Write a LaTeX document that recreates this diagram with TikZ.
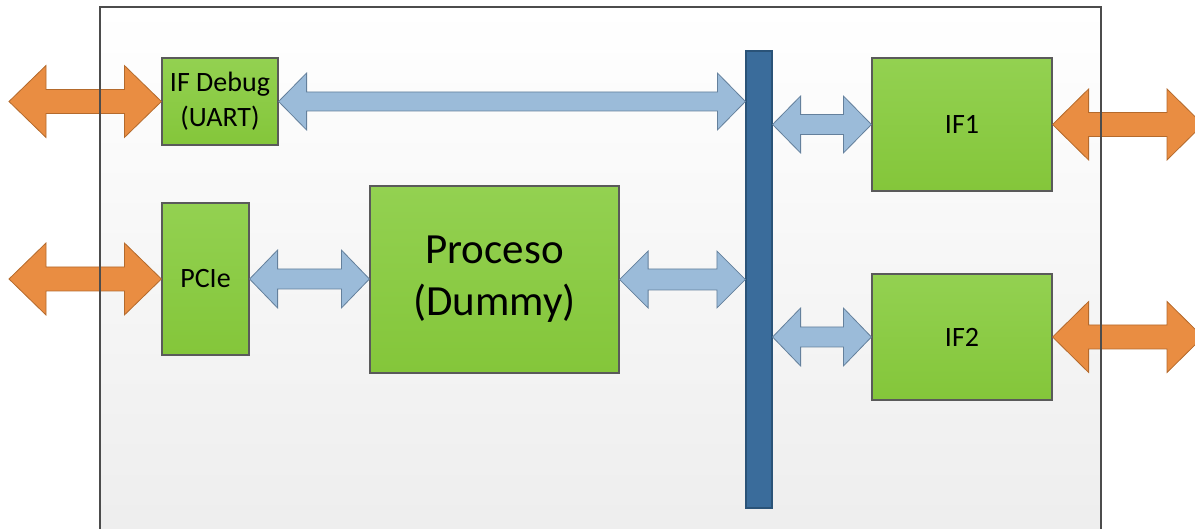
\documentclass[tikz,border=0pt]{standalone}
\usepackage{fontspec}
\setmainfont{Carlito}
\usetikzlibrary{calc}
\definecolor{verdeA}{HTML}{93D151}
\definecolor{verdeB}{HTML}{84C63A}
\definecolor{borde}{HTML}{5A5A5A}
\definecolor{naranja}{HTML}{E98D42}
\definecolor{naranjaD}{HTML}{B46A2C}
\definecolor{celeste}{HTML}{9BBBD9}
\definecolor{celesteD}{HTML}{64809C}
\definecolor{bus}{HTML}{3A6C9B}
\definecolor{busD}{HTML}{2A5378}

% flecha doble: estilo, desde, hasta, largo punta, media altura punta, media altura cuerpo
\newcommand{\flecha}[6]{%
\path[#1] let \p1=(#2), \p2=(#3) in (\x1,\y1) -- (\x1+#4,\y1+#5) -- (\x1+#4,\y1+#6) -- (\x2-#4,\y1+#6) -- (\x2-#4,\y1+#5) -- (\x2,\y1) -- (\x2-#4,\y1-#5) -- (\x2-#4,\y1-#6) -- (\x1+#4,\y1-#6) -- (\x1+#4,\y1-#5) -- cycle;}

\begin{document}
\begin{tikzpicture}[x=1pt,y=-1pt,
  caja/.style={draw=borde, line width=1.2pt, top color=verdeA, bottom color=verdeB, inner sep=0pt, align=center, font=\fontsize{28}{35}\selectfont},
  naranjo/.style={fill=naranja, draw=naranjaD, line width=0.8pt},
  azul/.style={fill=celeste, draw=celesteD, line width=0.8pt}]
\useasboundingbox (0,0) rectangle (1195,529);

% placa
\fill[top color=white, bottom color=black!7] (100,7) rectangle (1101,545);

\node[caja, minimum width=116, minimum height=87] (debug) at (220,101.5) {IF Debug\\(UART)};
\node[caja, minimum width=87, minimum height=152] (pcie) at (205.5,279) {PCIe};
\node[caja, minimum width=249, minimum height=187, font=\fontsize{43}{52}\selectfont] (proc) at (494.5,279.5) {Proceso\\(Dummy)};
\node[fill=bus, draw=busD, line width=1.2pt, minimum width=26, minimum height=457, inner sep=0pt] (bus) at (759,279.5) {};
\node[caja, minimum width=180, minimum height=133] (if1) at (962,124.5) {IF1};
\node[caja, minimum width=180, minimum height=126] (if2) at (962,337) {IF2};

\coordinate (extA) at (9,101.5);
\coordinate (extB) at (9,279);
\coordinate (extC) at (1203,124.5);
\coordinate (extD) at (1203,337);

\flecha{naranjo}{extA}{debug.west}{37pt}{36pt}{12pt}
\flecha{naranjo}{extB}{pcie.west}{37pt}{36pt}{12pt}
\flecha{naranjo}{if1.east}{extC}{36pt}{35.5pt}{12pt}
\flecha{naranjo}{if2.east}{extD}{36pt}{35.5pt}{12pt}
\flecha{azul}{debug.east}{bus.west |- debug.east}{28pt}{28.5pt}{9.5pt}
\flecha{azul}{pcie.east}{proc.west |- pcie.east}{28pt}{29pt}{10pt}
\flecha{azul}{proc.east}{bus.west |- proc.east}{28.5pt}{28.5pt}{10.5pt}
\flecha{azul}{bus.east |- if1.west}{if1.west}{28pt}{28.5pt}{10pt}
\flecha{azul}{bus.east |- if2.west}{if2.west}{28pt}{29pt}{10pt}

\draw[black!70, line width=1.5pt] (100,545) -- (100,7) -- (1101,7) -- (1101,545);
\end{tikzpicture}
\end{document}
